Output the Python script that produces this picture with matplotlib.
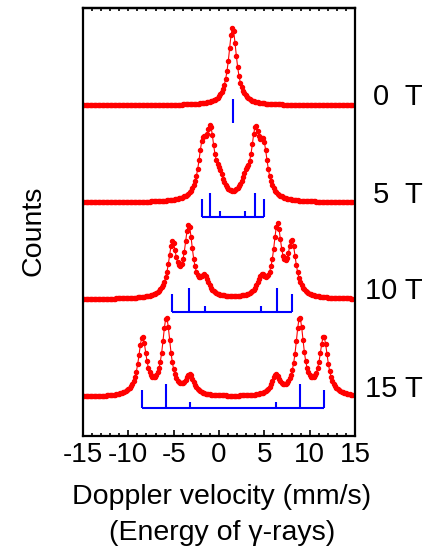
import numpy as np
import matplotlib
matplotlib.use("Agg")
import matplotlib.pyplot as plt
import matplotlib.transforms as mtransforms

plt.rcParams["font.family"] = ["Liberation Sans", "DejaVu Sans"]

# spectra (velocities in mm/s)
field_labels = ["0  T", "5  T", "10 T", "15 T"]
baselines = [3.387, 2.388, 1.396, 0.392]
peak_heights = [0.79, 0.80, 0.78, 0.81]
line_positions = [
    [1.50],
    [-1.83, -0.95, 0.08, 2.91, 4.01, 4.93],
    [-5.14, -3.34, -1.58, 4.67, 6.44, 8.05],
    [-8.45, -5.80, -3.23, 6.25, 8.90, 11.55],
]
line_intensities = [
    [4],
    [3, 4, 1, 1, 4, 3],
    [3, 4, 1, 1, 4, 3],
    [3, 4, 1, 1, 4, 3],
]
line_width = 1.1  # FWHM of each line
stick_offsets = [0.185, 0.147, 0.13, 0.11]
stick_scale = 0.0615
xticks = [-15, -10, -5, 0, 5, 10, 15]

velocity = np.linspace(-15, 15, 205)

fig = plt.figure(figsize=(4.42, 5.49), dpi=100)
ax = fig.add_axes([83 / 442, 1 - 435.5 / 549, 272 / 442, 427.5 / 549])

for base, peak, pos, inten, off in zip(baselines, peak_heights, line_positions,
                                       line_intensities, stick_offsets):
    counts = np.zeros_like(velocity)
    for p, i in zip(pos, inten):
        counts += i / (1 + (2 * (velocity - p) / line_width) ** 2)
    counts = base + peak * counts / counts.max()
    ax.plot(velocity, counts, "-o", color="red", lw=0.8, ms=2.9,
            mec="red", mfc="red")

    # stick diagram
    y0 = base - off
    for p, i in zip(pos, inten):
        ax.plot([p, p], [y0, y0 + i * stick_scale], color="blue", lw=1.5,
                solid_capstyle="butt")
    if len(pos) > 1:
        ax.plot([min(pos), max(pos)], [y0, y0], color="blue", lw=1.5,
                solid_capstyle="butt")

trans = mtransforms.blended_transform_factory(ax.transAxes, ax.transData)
for base, label in zip(baselines, field_labels):
    ax.text((423 - 83) / 272, base, label, transform=trans, ha="right",
            va="baseline", fontsize=21)

ax.set_xlim(-15, 15)
ax.set_ylim(0, 427.5 / 97.5)
ax.set_yticks([])
ax.set_xticks(xticks)
ax.set_xticklabels([str(t) for t in xticks])
ax.set_xticks(np.arange(-15, 16, 1), minor=True)
ax.tick_params(axis="x", which="major", direction="in", length=4, width=1.2,
               labelsize=20, pad=5)
ax.tick_params(axis="x", which="minor", direction="in", length=2, width=1.2)
for s in ax.spines.values():
    s.set_linewidth(1.6)

top = ax.secondary_xaxis("top")
top.set_xticks(np.arange(-15, 16, 1))
top.tick_params(direction="in", length=2, width=1.2, labeltop=False)
top.spines["top"].set_linewidth(1.6)

fig.text(222 / 442, 1 - 497 / 549, "Doppler velocity (mm/s)", ha="center",
         va="center", fontsize=20.5)
fig.text(222 / 442, 1 - 533 / 549, "(Energy of γ-rays)", ha="center",
         va="center", fontsize=20.5)
fig.text(34 / 442, 1 - 231 / 549, "Counts", rotation=90, ha="center",
         va="center", fontsize=20.5)

fig.savefig("out.png", dpi=100)
